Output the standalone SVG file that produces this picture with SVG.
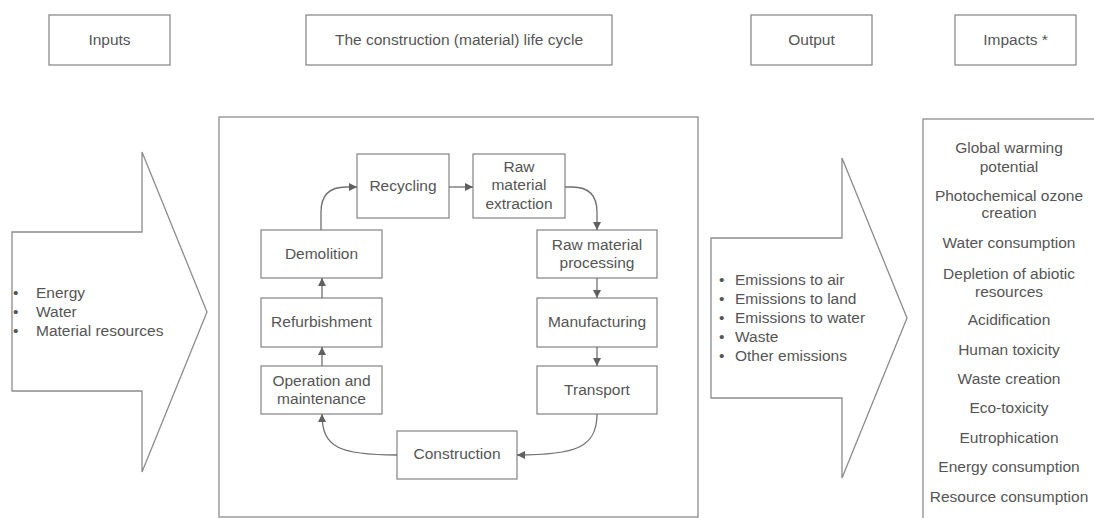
<svg xmlns="http://www.w3.org/2000/svg" width="1094" height="518" viewBox="0 0 1094 518">
<defs>
<style>
.box{fill:#fff;stroke:#8c8c8c;stroke-width:1.3}
.t{font-family:"Liberation Sans",Arial,sans-serif;font-size:15.5px;fill:#555}
.c{text-anchor:middle}
.imp{font-family:"Liberation Sans",Arial,sans-serif;font-size:15.5px;fill:#555;text-anchor:middle}
.con{fill:none;stroke:#707070;stroke-width:1.3}
</style>
<marker id="ah" markerUnits="userSpaceOnUse" markerWidth="9" markerHeight="8" refX="8" refY="4" orient="auto">
<path d="M0,0 L8,4 L0,8 z" fill="#606060"/>
</marker>
</defs>
<rect width="1094" height="518" fill="#fff"/>

<g id="hdr-inputs"><rect class="box" x="49" y="15" width="121" height="50"/><text class="t c" x="109.5" y="45">Inputs</text></g>
<g id="hdr-lifecycle"><rect class="box" x="306" y="15" width="306" height="50"/><text class="t c" x="459" y="45">The construction (material) life cycle</text></g>
<g id="hdr-output"><rect class="box" x="751" y="15" width="121" height="50"/><text class="t c" x="811.5" y="45">Output</text></g>
<g id="hdr-impacts"><rect class="box" x="955" y="15" width="121" height="50"/><text class="t c" x="1015.5" y="45">Impacts *</text></g>

<g id="inputs">
<polygon class="box" points="12,232 142,232 142,152 207,312 142,472 142,391 12,391"/>
<text class="t" x="13" y="298">•</text><text class="t" x="36" y="298">Energy</text>
<text class="t" x="13" y="317">•</text><text class="t" x="36" y="317">Water</text>
<text class="t" x="13" y="336">•</text><text class="t" x="36" y="336">Material resources</text>
</g>

<g id="lifecycle-frame"><rect class="box" x="219" y="117" width="479" height="400"/></g>

<g id="recycling"><rect class="box" x="357" y="154" width="92" height="64"/><text class="t c" x="403" y="191">Recycling</text></g>
<g id="extraction"><rect class="box" x="473" y="154" width="92" height="64"/><text class="t c" x="519" y="172">Raw</text><text class="t c" x="519" y="190">material</text><text class="t c" x="519" y="209">extraction</text></g>
<g id="processing"><rect class="box" x="537" y="230" width="120" height="48"/><text class="t c" x="597" y="250">Raw material</text><text class="t c" x="597" y="268">processing</text></g>
<g id="manufacturing"><rect class="box" x="537" y="298" width="120" height="49"/><text class="t c" x="597" y="327">Manufacturing</text></g>
<g id="transport"><rect class="box" x="537" y="366" width="120" height="48"/><text class="t c" x="597" y="395">Transport</text></g>
<g id="construction"><rect class="box" x="397" y="431" width="120" height="48"/><text class="t c" x="457" y="459">Construction</text></g>
<g id="operation"><rect class="box" x="261" y="366" width="121" height="48"/><text class="t c" x="321.5" y="386">Operation and</text><text class="t c" x="321.5" y="404">maintenance</text></g>
<g id="refurbishment"><rect class="box" x="261" y="298" width="121" height="49"/><text class="t c" x="321.5" y="327">Refurbishment</text></g>
<g id="demolition"><rect class="box" x="261" y="230" width="121" height="48"/><text class="t c" x="321.5" y="259">Demolition</text></g>

<g id="connectors">
<path class="con" marker-end="url(#ah)" d="M321,230 L321,212 Q321,187 346,187 L357,187"/>
<path class="con" marker-end="url(#ah)" d="M449,187 L473,187"/>
<path class="con" marker-end="url(#ah)" d="M565,187 L572,187 Q597,187 597,212 L597,230"/>
<path class="con" marker-end="url(#ah)" d="M597,278 L597,298"/>
<path class="con" marker-end="url(#ah)" d="M597,347 L597,366"/>
<path class="con" marker-end="url(#ah)" d="M597,414 C597,448 575,455 517,455"/>
<path class="con" marker-end="url(#ah)" d="M397,455 C340,455 322,448 322,414"/>
<path class="con" marker-end="url(#ah)" d="M322,366 L322,347"/>
<path class="con" marker-end="url(#ah)" d="M322,298 L322,278"/>
</g>

<g id="output">
<polygon class="box" points="711,238 842,238 842,158 907,318 842,478 842,398 711,398"/>
<text class="t" x="719" y="285">•</text><text class="t" x="735" y="285">Emissions to air</text>
<text class="t" x="719" y="304">•</text><text class="t" x="735" y="304">Emissions to land</text>
<text class="t" x="719" y="323">•</text><text class="t" x="735" y="323">Emissions to water</text>
<text class="t" x="719" y="342">•</text><text class="t" x="735" y="342">Waste</text>
<text class="t" x="719" y="361">•</text><text class="t" x="735" y="361">Other emissions</text>
</g>

<g id="impacts">
<rect class="box" x="923" y="119" width="200" height="420"/>
<text class="imp" x="1009" y="153">Global warming</text>
<text class="imp" x="1009" y="172">potential</text>
<text class="imp" x="1009" y="201">Photochemical ozone</text>
<text class="imp" x="1009" y="218">creation</text>
<text class="imp" x="1009" y="248">Water consumption</text>
<text class="imp" x="1009" y="279">Depletion of abiotic</text>
<text class="imp" x="1009" y="297">resources</text>
<text class="imp" x="1009" y="325">Acidification</text>
<text class="imp" x="1009" y="355">Human toxicity</text>
<text class="imp" x="1009" y="384">Waste creation</text>
<text class="imp" x="1009" y="413">Eco-toxicity</text>
<text class="imp" x="1009" y="443">Eutrophication</text>
<text class="imp" x="1009" y="472">Energy consumption</text>
<text class="imp" x="1009" y="502">Resource consumption</text>
</g>
</svg>
